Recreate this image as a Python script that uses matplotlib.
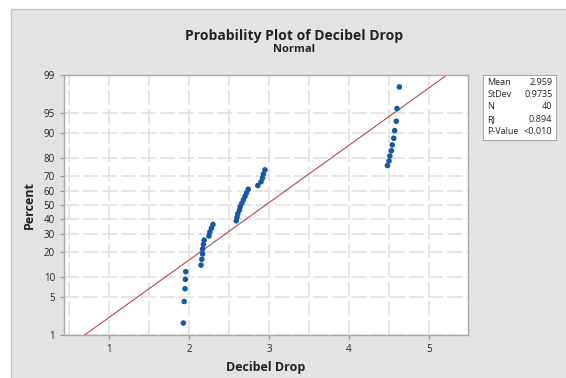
"""Normal probability plot of decibel drop, in the Minitab look."""

from statistics import NormalDist

import matplotlib

matplotlib.use("Agg")
import matplotlib.pyplot as plt
import numpy as np
from matplotlib.patches import Rectangle

plt.rcParams["font.family"] = ["Open Sans", "DejaVu Sans"]

decibel_drop = [
    1.93, 1.94, 1.95, 1.955, 1.96,
    2.15, 2.16, 2.17, 2.17, 2.18, 2.19, 2.25, 2.26, 2.28, 2.30,
    2.59, 2.60, 2.61, 2.63, 2.64, 2.66, 2.68, 2.70, 2.72, 2.74,
    2.86, 2.90, 2.92, 2.93, 2.95,
    4.48, 4.50, 4.51, 4.53, 4.54, 4.56, 4.57, 4.59, 4.60, 4.63,
]
mean, stdev = 2.959, 0.9735
stat_names = ["Mean", "StDev", "N", "RJ", "P-Value"]
stat_values = ["2.959", "0.9735", "40", "0.894", "<0.010"]
pct_ticks = [1, 5, 10, 20, 30, 40, 50, 60, 70, 80, 90, 95, 99]
x_ticks = [1, 2, 3, 4, 5]

nd = NormalDist()
n = len(decibel_drop)
# Minitab median ranks
z_pts = [nd.inv_cdf((i - 0.3) / (n + 0.4)) for i in range(1, n + 1)]
z_lo, z_hi = nd.inv_cdf(0.01), nd.inv_cdf(0.99)

fig = plt.figure(figsize=(5.66, 3.78), dpi=100, facecolor="white")
fig.patches.append(Rectangle((11 / 566, -0.01), 1, 1 - 9 / 378 + 0.01, transform=fig.transFigure,
                             facecolor="#e3e3e3", edgecolor="#c4c4c4", linewidth=1, zorder=-10))

ax = fig.add_axes([64 / 566, 43 / 378, 404 / 566, 260 / 378])
ax.set_facecolor("white")

grid_kw = dict(color="#e2e2e2", lw=1.2, ls=(0, (9, 2.5)), zorder=1)
for gx in np.arange(0.5, 5.01, 0.5):
    ax.axvline(gx, **grid_kw)
for p in pct_ticks:
    ax.axhline(nd.inv_cdf(p / 100), **grid_kw)

zz = np.linspace(z_lo - 0.2, z_hi + 0.2, 50)
ax.plot(mean + stdev * zz, zz, color="#a82828", lw=0.8, alpha=0.85, zorder=2)
ax.scatter(decibel_drop, z_pts, s=16, color="#1556a6", edgecolors="none", zorder=3)

ax.set_xlim(0.4375, 5.4875)
ax.set_ylim(z_lo, z_hi)
ax.set_xticks(x_ticks)
ax.set_yticks([nd.inv_cdf(p / 100) for p in pct_ticks])
ax.set_yticklabels([str(p) for p in pct_ticks])
ax.tick_params(labelsize=7, colors="#9a9a9a", length=3, width=0.8, labelcolor="#222222")
for s in ax.spines.values():
    s.set_color("#a8a8a8")
    s.set_linewidth(1)

ax.set_xlabel("Decibel Drop", fontsize=9, fontweight="bold", color="#222222", labelpad=4)
ax.set_ylabel("Percent", fontsize=9, fontweight="bold", color="#222222", labelpad=6)

fig.text(0.52, 1 - 36 / 378, "Probability Plot of Decibel Drop", ha="center", va="center",
         fontsize=10, fontweight="bold", color="#222222")
fig.text(0.52, 1 - 50 / 378, "Normal", ha="center", va="center",
         fontsize=8, fontweight="bold", color="#222222")

# statistics box
box = fig.add_axes([483 / 566, 238 / 378, 73 / 566, 65 / 378])
box.set_xticks([])
box.set_yticks([])
box.set_facecolor("white")
for s in box.spines.values():
    s.set_color("#a8a8a8")
for k, (name, val) in enumerate(zip(stat_names, stat_values)):
    y = 1 - (k + 0.6) / 5.3
    box.text(0.06, y, name, ha="left", va="center", fontsize=6.5, color="#222222", transform=box.transAxes)
    box.text(0.95, y, val, ha="right", va="center", fontsize=6.5, color="#222222", transform=box.transAxes)

fig.savefig("out.png", dpi=100)
